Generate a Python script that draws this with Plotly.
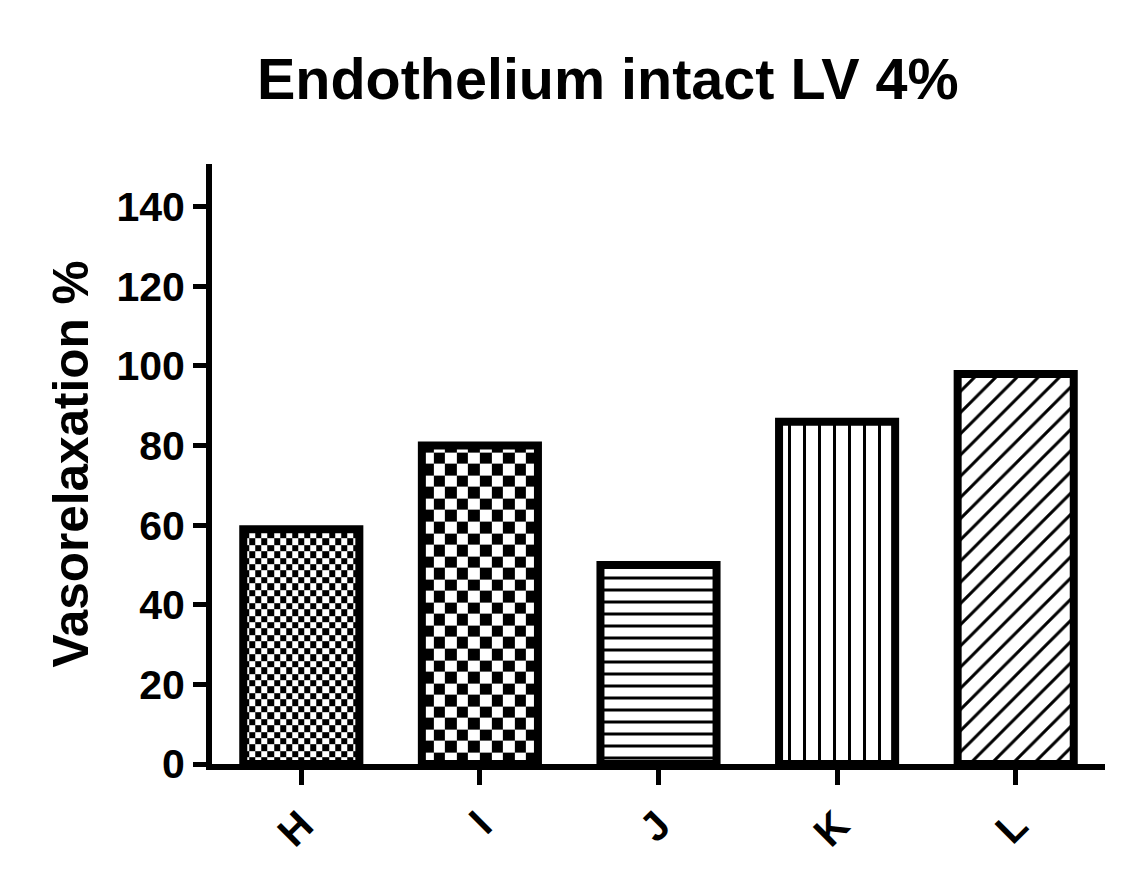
import numpy as np
import plotly.graph_objects as go

categories = ["H", "I", "J", "K", "L"]
values = [59, 80, 50, 86, 98]
title_text = "Endothelium intact LV 4%"
y_title = "Vasorelaxation %"
y_ticks = [0, 20, 40, 60, 80, 100, 120, 140]

BAR_W = 0.65
FONT = "Liberation Sans, Arial, sans-serif"

xpos = list(range(len(categories)))
fig = go.Figure()

# checkerboard fills for H and I (cell size in data units: x, y)
checker = {0: (0.0335, 1.62), 1: (0.064, 2.9)}
for i, (cw, ch) in checker.items():
    x0, x1 = xpos[i] - BAR_W / 2, xpos[i] + BAR_W / 2
    nx = max(1, int(round((x1 - x0) / cw)))
    xe = np.linspace(x0, x1, nx + 1)
    ye = np.arange(0, values[i], ch)
    ye = np.append(ye, values[i])
    ny = len(ye) - 1
    z = [[(r + c) % 2 for c in range(nx)] for r in range(ny)]
    fig.add_trace(go.Heatmap(x=xe, y=ye, z=z, colorscale=[[0, "white"], [1, "black"]],
                             showscale=False, zsmooth=False, hoverinfo="skip", zmin=0, zmax=1))

patterns = {2: ("-", 12, 0.25), 3: ("|", 15, 0.2), 4: ("/", 15, 0.2)}
for i, cat in enumerate(categories):
    if i in patterns:
        sh, sz, so = patterns[i]
        marker = dict(color="white", line=dict(color="black", width=8),
                      pattern=dict(shape=sh, size=sz, solidity=so, fgcolor="black", bgcolor="white", fillmode="replace"))
    else:
        marker = dict(color="rgba(0,0,0,0)", line=dict(color="black", width=8))
    fig.add_trace(go.Bar(x=[xpos[i]], y=[values[i]], width=BAR_W, marker=marker, showlegend=False))

fig.update_layout(
    width=1134, height=886,
    margin=dict(l=212, r=29, t=164, b=122),
    plot_bgcolor="white", paper_bgcolor="white",
    showlegend=False,
    font=dict(family=FONT, color="black"),
    title=dict(text=title_text, x=0.536, xanchor="center", y=0.911, yanchor="middle",
               font=dict(size=57.5, weight="bold", family=FONT, color="black")),
    xaxis=dict(range=[-0.5, 4.5], tickmode="array", tickvals=xpos, ticktext=categories,
               tickangle=-45, ticks="outside", ticklen=15, tickwidth=5, tickcolor="black",
               showline=True, linewidth=6, linecolor="black", showgrid=False, zeroline=False,
               tickfont=dict(size=41, weight="bold", family=FONT, color="black")),
    yaxis=dict(range=[0, 150.75], tickmode="array", tickvals=y_ticks,
               ticks="outside", ticklen=13, tickwidth=5, tickcolor="black",
               showline=True, linewidth=6, linecolor="black", showgrid=False, zeroline=False,
               tickfont=dict(size=41, weight="bold", family=FONT, color="black"),
               title=dict(text=y_title, standoff=14, font=dict(size=49.5, weight="bold", family=FONT, color="black"))),
)

fig.write_html("out.html")
